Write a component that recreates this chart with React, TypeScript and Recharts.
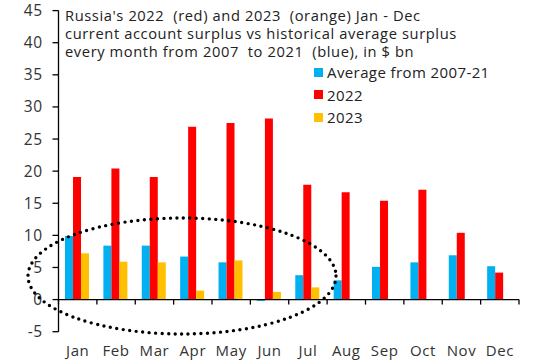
import React from "react";
import { BarChart, Bar, XAxis, YAxis, ReferenceLine } from "recharts";

const months = ["Jan", "Feb", "Mar", "Apr", "May", "Jun", "Jul", "Aug", "Sep", "Oct", "Nov", "Dec"];
const avg0721 = [9.9, 8.4, 8.4, 6.7, 5.8, -0.2, 3.8, 3.0, 5.1, 5.8, 6.9, 5.2];
const y2022 = [19.1, 20.4, 19.1, 26.9, 27.5, 28.2, 17.9, 16.7, 15.4, 17.1, 10.4, 4.2];
const y2023: (number | null)[] = [7.2, 5.9, 5.8, 1.4, 6.1, 1.2, 1.9, null, null, null, null, null];
const yTicks = [-5, 0, 5, 10, 15, 20, 25, 30, 35, 40, 45];
const titleLines = [
  "Russia's 2022  (red) and 2023  (orange) Jan - Dec",
  "current account surplus vs historical average surplus",
  "every month from 2007  to 2021  (blue), in $ bn",
];
const legendItems = [
  { name: "Average from 2007-21", color: "#00B0F0" },
  { name: "2022", color: "#FF0000" },
  { name: "2023", color: "#FFC000" },
];

const data = months.map((m, i) => ({ month: m, avg: avg0721[i], y2022: y2022[i], y2023: y2023[i] }));

const FONT = "'Open Sans', 'Noto Sans', sans-serif";
const TEXT = "#333333";

const ZeroAxis = (props: any) => {
  const { x1, x2, y1 } = props;
  const n = months.length;
  const step = (x2 - x1) / n;
  const ticks = [];
  for (let i = 0; i <= n; i++) {
    const x = x1 + step * i;
    ticks.push(<line key={i} x1={x} x2={x} y1={y1} y2={y1 + 5} stroke="#000" strokeWidth={1.3} />);
  }
  return (
    <g>
      <line x1={x1} x2={x2} y1={y1} y2={y1} stroke="#000" strokeWidth={1.3} />
      {ticks}
    </g>
  );
};

export default function App() {
  return (
    <div style={{ position: "absolute", left: 0, top: 0, width: 538, height: 362, background: "#fff", fontFamily: FONT }}>
      <BarChart
        width={538}
        height={362}
        data={data}
        margin={{ top: 10.6, right: 19, left: 0, bottom: 0.3 }}
        barCategoryGap="17%"
        barGap={0}
      >
        <YAxis
          type="number"
          domain={[-5, 45]}
          ticks={yTicks}
          interval={0}
          width={58.5}
          axisLine={{ stroke: "#000", strokeWidth: 1.3 }}
          tickLine={{ stroke: "#000", strokeWidth: 1.3 }}
          tickSize={6}
          tick={{ fill: TEXT, fontSize: 15.5, fontFamily: FONT, letterSpacing: 0.5 }}
          tickMargin={10}
        />
        <XAxis
          dataKey="month"
          axisLine={false}
          tickLine={false}
          height={30}
          tick={{ fill: TEXT, fontSize: 15, fontFamily: FONT, letterSpacing: 0.6, dy: 6 }}
          interval={0}
        />
        <Bar dataKey="avg" fill="#00B0F0" isAnimationActive={false} />
        <Bar dataKey="y2022" fill="#FF0000" isAnimationActive={false} />
        <Bar dataKey="y2023" fill="#FFC000" isAnimationActive={false} />
        <ReferenceLine y={0} shape={ZeroAxis} />
      </BarChart>
      {titleLines.map((t, i) => (
        <div
          key={i}
          style={{
            position: "absolute",
            left: 65,
            top: 6 + i * 18.2,
            height: 18,
            fontSize: 14.7,
            lineHeight: "18px",
            color: "#222",
            whiteSpace: "pre",
            letterSpacing: 0.6,
          }}
        >
          {t}
        </div>
      ))}
      <div style={{ position: "absolute", left: 314, top: 61 }}>
        {legendItems.map((it) => (
          <div key={it.name} style={{ display: "flex", alignItems: "center", height: 22.5, fontSize: 15, color: "#222", letterSpacing: 0.4 }}>
            <span style={{ display: "inline-block", width: 9, height: 9, background: it.color, marginRight: 4 }} />
            {it.name}
          </div>
        ))}
      </div>
      <svg style={{ position: "absolute", left: 0, top: 0, pointerEvents: "none" }} width={538} height={362}>
        <ellipse cx={182} cy={276} rx={154} ry={58} fill="none" stroke="#000" strokeWidth={3.4} strokeDasharray="0 6.5" strokeLinecap="round" />
      </svg>
    </div>
  );
}
